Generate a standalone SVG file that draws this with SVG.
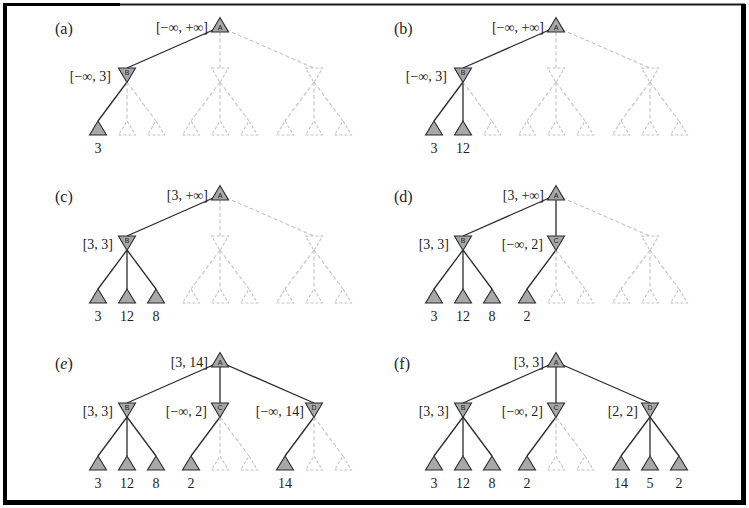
<svg xmlns="http://www.w3.org/2000/svg" width="749" height="508" viewBox="0 0 749 508">
<style>
.s{stroke:#2b2b2b;stroke-width:1.3;fill:none}
.d{stroke:#c4c4c4;stroke-width:1.1;fill:none;stroke-dasharray:4 2.5}
.f{fill:#a8a8a8;stroke:#2b2b2b;stroke-width:1.1;stroke-linejoin:miter}
.u{fill:none;stroke:#c4c4c4;stroke-width:1.1;stroke-dasharray:3 2}
.t{font-family:"Liberation Serif","Times New Roman",serif;font-size:14px;fill:#1e1e1e}
.p{font-family:"Liberation Serif","Times New Roman",serif;font-size:16px;fill:#1e1e1e}
.r{text-anchor:end}
.c{text-anchor:middle}
.n{font-family:"Liberation Sans",Arial,sans-serif;font-size:7px;fill:#222;text-anchor:middle}
</style>
<g id="frame">
<rect x="3" y="3" width="117" height="3" fill="#000"/>
<line x1="120" y1="4.5" x2="745" y2="4.5" stroke="#1a1a1a" stroke-width="2"/>
<rect x="3" y="3" width="4" height="502" fill="#000"/>
<rect x="741" y="4" width="5" height="501" fill="#000"/>
<rect x="3" y="500" width="743" height="5" fill="#000"/>
</g>

<!-- panel a -->
<g id="panel-a">
<g id="a-edges">
<path class="s" d="M220,27 L127,68"/><path class="d" d="M220,32 L220,68"/><path class="d" d="M220,27 L314,68"/>
<path class="s" d="M127,82 L98,121"/><path class="d" d="M127,82 L127,121"/><path class="d" d="M127,82 L156,121"/>
<path class="d" d="M220,82 L191,121"/><path class="d" d="M220,82 L220,121"/><path class="d" d="M220,82 L249,121"/>
<path class="d" d="M314,82 L285,121"/><path class="d" d="M314,82 L314,121"/><path class="d" d="M314,82 L343,121"/>
</g>
<text class="p" x="55" y="34">(a)</text>
<g id="a-A"><polygon class="f" points="211.5,32 228.5,32 220,17.5"/><text class="n" x="220" y="30">A</text><text class="t r" x="208" y="32">[−∞, +∞]</text></g>
<g id="a-B"><polygon class="f" points="118.5,68 135.5,68 127,82.5"/><text class="n" x="127" y="75">B</text><text class="t r" x="111" y="81">[−∞, 3]</text></g>
<g id="a-C"><polygon class="u" points="211.5,68 228.5,68 220,82.5"/></g>
<g id="a-D"><polygon class="u" points="305.5,68 322.5,68 314,82.5"/></g>
<g id="a-l1"><polygon class="f" points="89.5,135 106.5,135 98,121"/><text class="t c" x="98" y="153">3</text></g>
<g id="a-l2"><polygon class="u" points="118.5,135 135.5,135 127,121"/></g>
<g id="a-l3"><polygon class="u" points="147.5,135 164.5,135 156,121"/></g>
<g id="a-l4"><polygon class="u" points="182.5,135 199.5,135 191,121"/></g>
<g id="a-l5"><polygon class="u" points="211.5,135 228.5,135 220,121"/></g>
<g id="a-l6"><polygon class="u" points="240.5,135 257.5,135 249,121"/></g>
<g id="a-l7"><polygon class="u" points="276.5,135 293.5,135 285,121"/></g>
<g id="a-l8"><polygon class="u" points="305.5,135 322.5,135 314,121"/></g>
<g id="a-l9"><polygon class="u" points="334.5,135 351.5,135 343,121"/></g>
</g>

<!-- panel b -->
<g id="panel-b" transform="translate(336,0)">
<g id="b-edges">
<path class="s" d="M220,27 L127,68"/><path class="d" d="M220,32 L220,68"/><path class="d" d="M220,27 L314,68"/>
<path class="s" d="M127,82 L98,121"/><path class="s" d="M127,82 L127,121"/><path class="d" d="M127,82 L156,121"/>
<path class="d" d="M220,82 L191,121"/><path class="d" d="M220,82 L220,121"/><path class="d" d="M220,82 L249,121"/>
<path class="d" d="M314,82 L285,121"/><path class="d" d="M314,82 L314,121"/><path class="d" d="M314,82 L343,121"/>
</g>
<text class="p" x="58" y="34">(b)</text>
<g id="b-A"><polygon class="f" points="211.5,32 228.5,32 220,17.5"/><text class="n" x="220" y="30">A</text><text class="t r" x="208" y="32">[−∞, +∞]</text></g>
<g id="b-B"><polygon class="f" points="118.5,68 135.5,68 127,82.5"/><text class="n" x="127" y="75">B</text><text class="t r" x="111" y="81">[−∞, 3]</text></g>
<g id="b-C"><polygon class="u" points="211.5,68 228.5,68 220,82.5"/></g>
<g id="b-D"><polygon class="u" points="305.5,68 322.5,68 314,82.5"/></g>
<g id="b-l1"><polygon class="f" points="89.5,135 106.5,135 98,121"/><text class="t c" x="98" y="153">3</text></g>
<g id="b-l2"><polygon class="f" points="118.5,135 135.5,135 127,121"/><text class="t c" x="127" y="153">12</text></g>
<g id="b-l3"><polygon class="u" points="147.5,135 164.5,135 156,121"/></g>
<g id="b-l4"><polygon class="u" points="182.5,135 199.5,135 191,121"/></g>
<g id="b-l5"><polygon class="u" points="211.5,135 228.5,135 220,121"/></g>
<g id="b-l6"><polygon class="u" points="240.5,135 257.5,135 249,121"/></g>
<g id="b-l7"><polygon class="u" points="276.5,135 293.5,135 285,121"/></g>
<g id="b-l8"><polygon class="u" points="305.5,135 322.5,135 314,121"/></g>
<g id="b-l9"><polygon class="u" points="334.5,135 351.5,135 343,121"/></g>
</g>

<!-- panel c -->
<g id="panel-c" transform="translate(0,168)">
<g id="c-edges">
<path class="s" d="M220,27 L127,68"/><path class="d" d="M220,32 L220,68"/><path class="d" d="M220,27 L314,68"/>
<path class="s" d="M127,82 L98,121"/><path class="s" d="M127,82 L127,121"/><path class="s" d="M127,82 L156,121"/>
<path class="d" d="M220,82 L191,121"/><path class="d" d="M220,82 L220,121"/><path class="d" d="M220,82 L249,121"/>
<path class="d" d="M314,82 L285,121"/><path class="d" d="M314,82 L314,121"/><path class="d" d="M314,82 L343,121"/>
</g>
<text class="p" x="55" y="34">(c)</text>
<g id="c-A"><polygon class="f" points="211.5,32 228.5,32 220,17.5"/><text class="n" x="220" y="30">A</text><text class="t r" x="208" y="32">[3, +∞]</text></g>
<g id="c-B"><polygon class="f" points="118.5,68 135.5,68 127,82.5"/><text class="n" x="127" y="75">B</text><text class="t r" x="113" y="81">[3, 3]</text></g>
<g id="c-C"><polygon class="u" points="211.5,68 228.5,68 220,82.5"/></g>
<g id="c-D"><polygon class="u" points="305.5,68 322.5,68 314,82.5"/></g>
<g id="c-l1"><polygon class="f" points="89.5,135 106.5,135 98,121"/><text class="t c" x="98" y="153">3</text></g>
<g id="c-l2"><polygon class="f" points="118.5,135 135.5,135 127,121"/><text class="t c" x="127" y="153">12</text></g>
<g id="c-l3"><polygon class="f" points="147.5,135 164.5,135 156,121"/><text class="t c" x="156" y="153">8</text></g>
<g id="c-l4"><polygon class="u" points="182.5,135 199.5,135 191,121"/></g>
<g id="c-l5"><polygon class="u" points="211.5,135 228.5,135 220,121"/></g>
<g id="c-l6"><polygon class="u" points="240.5,135 257.5,135 249,121"/></g>
<g id="c-l7"><polygon class="u" points="276.5,135 293.5,135 285,121"/></g>
<g id="c-l8"><polygon class="u" points="305.5,135 322.5,135 314,121"/></g>
<g id="c-l9"><polygon class="u" points="334.5,135 351.5,135 343,121"/></g>
</g>

<!-- panel d -->
<g id="panel-d" transform="translate(336,168)">
<g id="d-edges">
<path class="s" d="M220,27 L127,68"/><path class="s" d="M220,27 L220,68"/><path class="d" d="M220,27 L314,68"/>
<path class="s" d="M127,82 L98,121"/><path class="s" d="M127,82 L127,121"/><path class="s" d="M127,82 L156,121"/>
<path class="s" d="M220,82 L191,121"/><path class="d" d="M220,82 L220,121"/><path class="d" d="M220,82 L249,121"/>
<path class="d" d="M314,82 L285,121"/><path class="d" d="M314,82 L314,121"/><path class="d" d="M314,82 L343,121"/>
</g>
<text class="p" x="58" y="34">(d)</text>
<g id="d-A"><polygon class="f" points="211.5,32 228.5,32 220,17.5"/><text class="n" x="220" y="30">A</text><text class="t r" x="208" y="32">[3, +∞]</text></g>
<g id="d-B"><polygon class="f" points="118.5,68 135.5,68 127,82.5"/><text class="n" x="127" y="75">B</text><text class="t r" x="113" y="81">[3, 3]</text></g>
<g id="d-C"><polygon class="f" points="211.5,68 228.5,68 220,82.5"/><text class="n" x="220" y="75">C</text><text class="t r" x="207" y="81">[−∞, 2]</text></g>
<g id="d-D"><polygon class="u" points="305.5,68 322.5,68 314,82.5"/></g>
<g id="d-l1"><polygon class="f" points="89.5,135 106.5,135 98,121"/><text class="t c" x="98" y="153">3</text></g>
<g id="d-l2"><polygon class="f" points="118.5,135 135.5,135 127,121"/><text class="t c" x="127" y="153">12</text></g>
<g id="d-l3"><polygon class="f" points="147.5,135 164.5,135 156,121"/><text class="t c" x="156" y="153">8</text></g>
<g id="d-l4"><polygon class="f" points="182.5,135 199.5,135 191,121"/><text class="t c" x="191" y="153">2</text></g>
<g id="d-l5"><polygon class="u" points="211.5,135 228.5,135 220,121"/></g>
<g id="d-l6"><polygon class="u" points="240.5,135 257.5,135 249,121"/></g>
<g id="d-l7"><polygon class="u" points="276.5,135 293.5,135 285,121"/></g>
<g id="d-l8"><polygon class="u" points="305.5,135 322.5,135 314,121"/></g>
<g id="d-l9"><polygon class="u" points="334.5,135 351.5,135 343,121"/></g>
</g>

<!-- panel e -->
<g id="panel-e" transform="translate(0,335)">
<g id="e-edges">
<path class="s" d="M220,27 L127,68"/><path class="s" d="M220,27 L220,68"/><path class="s" d="M220,27 L314,68"/>
<path class="s" d="M127,82 L98,121"/><path class="s" d="M127,82 L127,121"/><path class="s" d="M127,82 L156,121"/>
<path class="s" d="M220,82 L191,121"/><path class="d" d="M220,82 L220,121"/><path class="d" d="M220,82 L249,121"/>
<path class="s" d="M314,82 L285,121"/><path class="d" d="M314,82 L314,121"/><path class="d" d="M314,82 L343,121"/>
</g>
<text class="p" x="55" y="34">(<tspan font-style="italic">e</tspan>)</text>
<g id="e-A"><polygon class="f" points="211.5,32 228.5,32 220,17.5"/><text class="n" x="220" y="30">A</text><text class="t r" x="208" y="32">[3, 14]</text></g>
<g id="e-B"><polygon class="f" points="118.5,68 135.5,68 127,82.5"/><text class="n" x="127" y="75">B</text><text class="t r" x="113" y="81">[3, 3]</text></g>
<g id="e-C"><polygon class="f" points="211.5,68 228.5,68 220,82.5"/><text class="n" x="220" y="75">C</text><text class="t r" x="207" y="81">[−∞, 2]</text></g>
<g id="e-D"><polygon class="f" points="305.5,68 322.5,68 314,82.5"/><text class="n" x="314" y="75">D</text><text class="t r" x="304" y="81">[−∞, 14]</text></g>
<g id="e-l1"><polygon class="f" points="89.5,135 106.5,135 98,121"/><text class="t c" x="98" y="153">3</text></g>
<g id="e-l2"><polygon class="f" points="118.5,135 135.5,135 127,121"/><text class="t c" x="127" y="153">12</text></g>
<g id="e-l3"><polygon class="f" points="147.5,135 164.5,135 156,121"/><text class="t c" x="156" y="153">8</text></g>
<g id="e-l4"><polygon class="f" points="182.5,135 199.5,135 191,121"/><text class="t c" x="191" y="153">2</text></g>
<g id="e-l5"><polygon class="u" points="211.5,135 228.5,135 220,121"/></g>
<g id="e-l6"><polygon class="u" points="240.5,135 257.5,135 249,121"/></g>
<g id="e-l7"><polygon class="f" points="276.5,135 293.5,135 285,121"/><text class="t c" x="285" y="153">14</text></g>
<g id="e-l8"><polygon class="u" points="305.5,135 322.5,135 314,121"/></g>
<g id="e-l9"><polygon class="u" points="334.5,135 351.5,135 343,121"/></g>
</g>

<!-- panel f -->
<g id="panel-f" transform="translate(336,335)">
<g id="f-edges">
<path class="s" d="M220,27 L127,68"/><path class="s" d="M220,27 L220,68"/><path class="s" d="M220,27 L314,68"/>
<path class="s" d="M127,82 L98,121"/><path class="s" d="M127,82 L127,121"/><path class="s" d="M127,82 L156,121"/>
<path class="s" d="M220,82 L191,121"/><path class="d" d="M220,82 L220,121"/><path class="d" d="M220,82 L249,121"/>
<path class="s" d="M314,82 L285,121"/><path class="s" d="M314,82 L314,121"/><path class="s" d="M314,82 L343,121"/>
</g>
<text class="p" x="58" y="34">(f)</text>
<g id="f-A"><polygon class="f" points="211.5,32 228.5,32 220,17.5"/><text class="n" x="220" y="30">A</text><text class="t r" x="208" y="32">[3, 3]</text></g>
<g id="f-B"><polygon class="f" points="118.5,68 135.5,68 127,82.5"/><text class="n" x="127" y="75">B</text><text class="t r" x="113" y="81">[3, 3]</text></g>
<g id="f-C"><polygon class="f" points="211.5,68 228.5,68 220,82.5"/><text class="n" x="220" y="75">C</text><text class="t r" x="207" y="81">[−∞, 2]</text></g>
<g id="f-D"><polygon class="f" points="305.5,68 322.5,68 314,82.5"/><text class="n" x="314" y="75">D</text><text class="t r" x="302" y="81">[2, 2]</text></g>
<g id="f-l1"><polygon class="f" points="89.5,135 106.5,135 98,121"/><text class="t c" x="98" y="153">3</text></g>
<g id="f-l2"><polygon class="f" points="118.5,135 135.5,135 127,121"/><text class="t c" x="127" y="153">12</text></g>
<g id="f-l3"><polygon class="f" points="147.5,135 164.5,135 156,121"/><text class="t c" x="156" y="153">8</text></g>
<g id="f-l4"><polygon class="f" points="182.5,135 199.5,135 191,121"/><text class="t c" x="191" y="153">2</text></g>
<g id="f-l5"><polygon class="u" points="211.5,135 228.5,135 220,121"/></g>
<g id="f-l6"><polygon class="u" points="240.5,135 257.5,135 249,121"/></g>
<g id="f-l7"><polygon class="f" points="276.5,135 293.5,135 285,121"/><text class="t c" x="285" y="153">14</text></g>
<g id="f-l8"><polygon class="f" points="305.5,135 322.5,135 314,121"/><text class="t c" x="314" y="153">5</text></g>
<g id="f-l9"><polygon class="f" points="334.5,135 351.5,135 343,121"/><text class="t c" x="343" y="153">2</text></g>
</g>
</svg>
